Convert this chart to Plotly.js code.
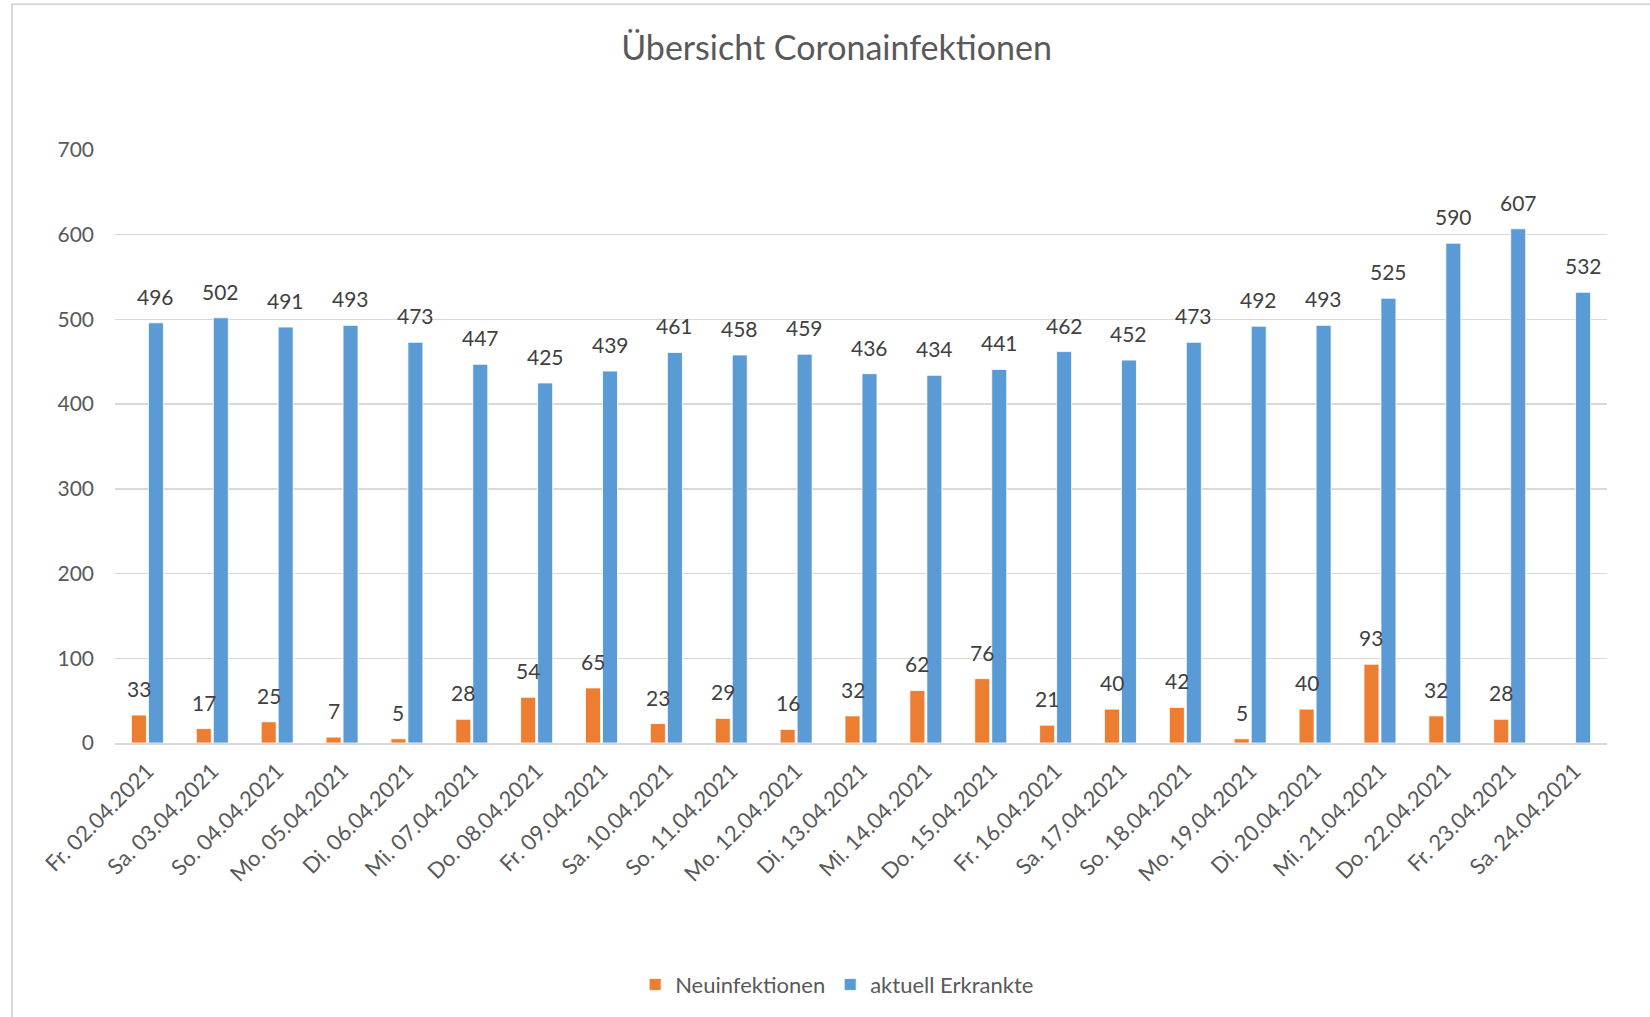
<!DOCTYPE html>
<html>
<head>
<meta charset="utf-8">
<script src="https://cdn.plot.ly/plotly-3.0.1.min.js"></script>
<style>html,body{margin:0;padding:0;background:#fff;}#chart{width:1650px;height:1017px;}</style>
</head>
<body>
<div id="chart"></div>
<script>
const categories = ["Fr. 02.04.2021","Sa. 03.04.2021","So. 04.04.2021","Mo. 05.04.2021","Di. 06.04.2021","Mi. 07.04.2021","Do. 08.04.2021","Fr. 09.04.2021","Sa. 10.04.2021","So. 11.04.2021","Mo. 12.04.2021","Di. 13.04.2021","Mi. 14.04.2021","Do. 15.04.2021","Fr. 16.04.2021","Sa. 17.04.2021","So. 18.04.2021","Mo. 19.04.2021","Di. 20.04.2021","Mi. 21.04.2021","Do. 22.04.2021","Fr. 23.04.2021","Sa. 24.04.2021"];
const neuinfektionen = [33,17,25,7,5,28,54,65,23,29,16,32,62,76,21,40,42,5,40,93,32,28,null];
const aktuellErkrankte = [496,502,491,493,473,447,425,439,461,458,459,436,434,441,462,452,473,492,493,525,590,607,532];
const yTicks = [0,100,200,300,400,500,600,700];

const FONT = "Lato, 'Noto Sans', sans-serif";

const traces = [
  {type:'bar', name:'Neuinfektionen', x:categories, y:neuinfektionen,
   marker:{color:'#ED7D31', line:{color:'#ffffff', width:0.8}}, hoverinfo:'x+y'},
  {type:'bar', name:'aktuell Erkrankte', x:categories, y:aktuellErkrankte,
   marker:{color:'#5B9BD5', line:{color:'#ffffff', width:0.8}}, hoverinfo:'x+y'}
];

const annotations = [];
function addLabels(vals, shift){
  vals.forEach((v,i)=>{
    if(v===null) return;
    annotations.push({x:categories[i], y:v, xref:'x', yref:'y', text:String(v),
      showarrow:false, xanchor:'center', yanchor:'bottom', xshift:shift, yshift:12,
      font:{family:FONT, size:21, color:'#404040'}});
  });
}
addLabels(neuinfektionen, -8.5);
addLabels(aktuellErkrankte, 8.5);

const layout = {
  width:1650, height:1017,
  margin:{l:115, r:43, t:150, b:274.3},
  paper_bgcolor:'#ffffff', plot_bgcolor:'#ffffff',
  font:{family:FONT, color:'#595959'},
  title:{text:'Übersicht Coronainfektionen', x:0.507, xanchor:'center', xref:'container',
         y:0.953, yanchor:'middle', yref:'container',
         font:{family:FONT, size:34, color:'#595959'}},
  barmode:'group', bargap:0.476, bargroupgap:0.118,
  showlegend:true,
  legend:{orientation:'h', x:0.484, xanchor:'center', y:-0.4075, yanchor:'middle',
          font:{family:FONT, size:22, color:'#595959'}, itemwidth:30, traceorder:'normal'},
  xaxis:{type:'category', tickangle:-45, ticks:'', showgrid:false, showline:true,
         linecolor:'#d9d9d9', linewidth:1.5, tickfont:{family:FONT, size:22, color:'#595959'},
         ticklabelstandoff:5, fixedrange:true},
  yaxis:{range:[0,700], tickvals:yTicks, ticktext:yTicks.map(String), showgrid:true,
         gridcolor:'#d9d9d9', gridwidth:1.5, zeroline:false, showline:false, ticks:'',
         tickfont:{family:FONT, size:21, color:'#595959'}, ticklabelstandoff:20, fixedrange:true},
  annotations:annotations,
  shapes:[{type:'rect', xref:'paper', yref:'paper', x0:-0.069, x1:1.2, y0:-1, y1:1.2457,
           line:{color:'#d9d9d9', width:2}, fillcolor:'rgba(0,0,0,0)', layer:'below'}]
};

Plotly.newPlot('chart', traces, layout, {displayModeBar:false, staticPlot:true});
</script>
</body>
</html>
